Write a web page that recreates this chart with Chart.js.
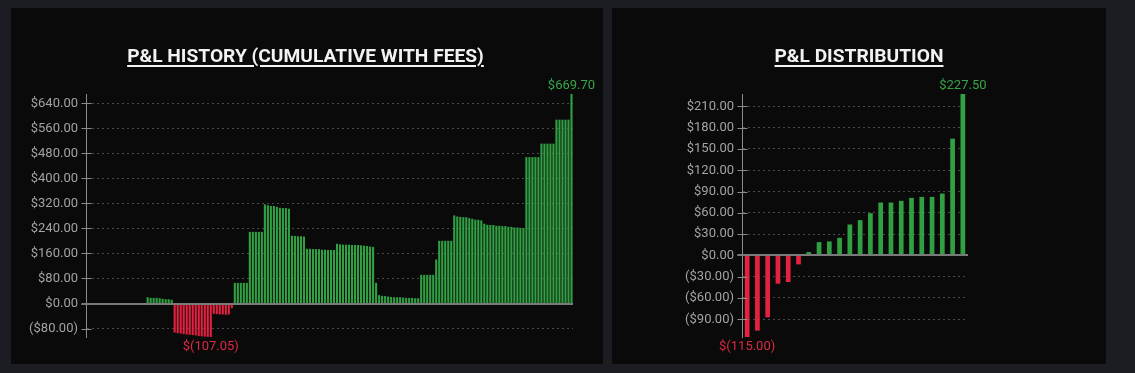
<!DOCTYPE html>
<html><head><meta charset="utf-8">
<script src="https://cdn.jsdelivr.net/npm/chart.js@4.4.0/dist/chart.umd.min.js"></script>
<style>
html,body{margin:0;padding:0;background:#1c1d22;width:1135px;height:373px;overflow:hidden;font-family:Roboto,sans-serif}
.panel{position:absolute;top:8px;height:356px;background:#0a0a0a}
.title{position:absolute;left:0;right:0;top:38px;text-align:center;color:#f2f2f2;font-weight:700;font-size:19.2px;line-height:19px;text-decoration:underline;text-underline-offset:3px;text-decoration-thickness:2px;white-space:nowrap}
canvas{position:absolute;left:0;top:0}
</style></head>
<body>
<div class="panel" style="left:11px;width:592px"><canvas id="c1" width="592" height="356"></canvas><div class="title" style="left:-3px">P&amp;L HISTORY (CUMULATIVE WITH FEES)</div></div>
<div class="panel" style="left:612px;width:494px"><canvas id="c2" width="494" height="356"></canvas><div class="title">P&amp;L DISTRIBUTION</div></div>
<script>
// ---- data ----
const historyValues = [
  0, -3, -3, -3, -3, -3, -3, -3, -3, -3, 0.5, 0.5, 0.5, 0.5, 0.5, -3, -3, -3, -3, -5,
  20, 18, 18, 18, 17, 15, 14, 14, 12,
  -92.8, -95, -96, -98, -99, -100, -101, -102, -104, -105, -106, -106.5, -107.05,
  -33, -34, -35, -35, -36, -35,
  -15,
  66, 66, 66, 66, 66,
  229, 229, 229, 229, 229,
  317, 314, 312, 312, 309, 306, 305, 305, 303,
  216.5, 216, 215, 215, 214,
  175, 175, 174, 174, 174,
  172, 172, 171, 171, 171,
  191, 189, 188, 188, 188, 187, 187, 187, 186, 185, 184, 182, 181,
  66,
  26.7, 24.5, 24, 22.4, 21, 20, 20, 20, 19, 18, 18, 18, 17, 17,
  91.7, 91.7, 91.7, 91.7, 91.7,
  140.8,
  200.5, 200.5, 200.5, 200.5, 200.5,
  281.6, 278, 277, 276, 276, 273, 271, 268, 267.7, 265.6,
  255, 251.7, 251, 251, 248.5, 248.5, 247.6, 247.6, 245, 245, 243, 243, 242, 241,
  468, 468, 468, 468, 468,
  511, 511, 511, 511, 511,
  587.7, 587.7, 587.7, 587.7, 587.7,
  669.70
];
const historyLabels = historyValues.map((v, i) => 'Trade ' + (i + 1));
const historyStep = 80;

const distValues = [-115, -106, -87.2, -39.8, -37.5, -12.7, 4.7, 18.75, 19.7, 24.8, 43.6, 49.7, 59.5, 74.5, 74.5, 76.9, 81.1, 82.5, 82.5, 87.2, 164.6, 227.5];
const distLabels = distValues.map((v, i) => 'T' + (i + 1));
const distStep = 30;

const GREEN = '#31a043';
const RED = '#e4213f';
const GREEN_TXT = '#35a545';
const RED_TXT = '#dc2a44';

Chart.defaults.font.family = 'Roboto, sans-serif';
Chart.defaults.font.size = 13;

function money(v) {
  const s = Math.abs(v).toFixed(2);
  return v < 0 ? '($' + s + ')' : '$' + s;
}
function moneyLabel(v) {
  const s = Math.abs(v).toFixed(2);
  return v < 0 ? '$(' + s + ')' : '$' + s;
}

const decor = {
  id: 'decor',
  afterDatasetsDraw(chart) {
    const ctx = chart.ctx, y = chart.scales.y, area = chart.chartArea;
    const ax = Math.round(area.left) + 0.5;
    ctx.save();
    // tick crosses
    ctx.strokeStyle = '#8c8c8c';
    ctx.lineWidth = 1;
    y.ticks.forEach(t => {
      const py = Math.round(y.getPixelForValue(t.value)) + 0.5;
      ctx.beginPath(); ctx.moveTo(ax - 5, py); ctx.lineTo(ax + 5, py); ctx.stroke();
    });
    // zero line
    const zy = Math.round(y.getPixelForValue(0));
    ctx.strokeStyle = '#7a7a7a';
    ctx.lineWidth = 2;
    ctx.beginPath(); ctx.moveTo(ax - 5, zy); ctx.lineTo(area.right, zy); ctx.stroke();
    // min / max labels
    const meta = chart.getDatasetMeta(0);
    const data = chart.data.datasets[0].data;
    let iMax = 0, iMin = 0;
    data.forEach((v, i) => { if (v > data[iMax]) iMax = i; if (v < data[iMin]) iMin = i; });
    ctx.font = '13px Roboto, sans-serif';
    ctx.textAlign = 'center';
    ctx.fillStyle = GREEN_TXT;
    ctx.textBaseline = 'bottom';
    ctx.fillText(moneyLabel(data[iMax]), meta.data[iMax].x, y.getPixelForValue(data[iMax]) - 2);
    ctx.fillStyle = RED_TXT;
    ctx.textBaseline = 'top';
    ctx.fillText(moneyLabel(data[iMin]), meta.data[iMin].x, y.getPixelForValue(data[iMin]) + 3);
    ctx.restore();
  }
};

function makeChart(id, labels, values, step, pad, yWidth, barPct) {
  const mn = Math.min(...values), mx = Math.max(...values);
  return new Chart(document.getElementById(id), {
    type: 'bar',
    data: {
      labels: labels,
      datasets: [{
        data: values,
        backgroundColor: values.map(v => v < 0 ? RED : GREEN),
        borderWidth: 0,
        barPercentage: barPct,
        categoryPercentage: 1
      }]
    },
    options: {
      responsive: false,
      animation: false,
      devicePixelRatio: 1,
      layout: { padding: pad },
      plugins: { legend: { display: false }, tooltip: { enabled: false }, title: { display: false } },
      scales: {
        x: { display: false },
        y: {
          min: mn, max: mx,
          afterBuildTicks(scale) {
            const out = [];
            for (let v = Math.ceil(mn / step) * step; v <= mx; v += step) out.push({ value: v });
            scale.ticks = out;
          },
          afterFit(scale) { scale.width = yWidth; },
          ticks: { color: '#a3a3a3', padding: 8, callback: v => money(v), font: { size: 13 } },
          grid: {
            drawTicks: false,
            color: c => (c.tick && c.tick.value === 0) ? 'rgba(0,0,0,0)' : '#4a4a4a',
            lineWidth: 1
          },
          border: { display: true, color: '#8c8c8c', width: 1, dash: [2, 3] }
        }
      }
    },
    plugins: [decor]
  });
}

makeChart('c1', historyLabels, historyValues, historyStep, { top: 86, right: 30, bottom: 27, left: 0 }, 75, 0.7);
makeChart('c2', distLabels, distValues, distStep, { top: 86, right: 138, bottom: 27, left: 0 }, 130, 0.46);
</script>
</body></html>
